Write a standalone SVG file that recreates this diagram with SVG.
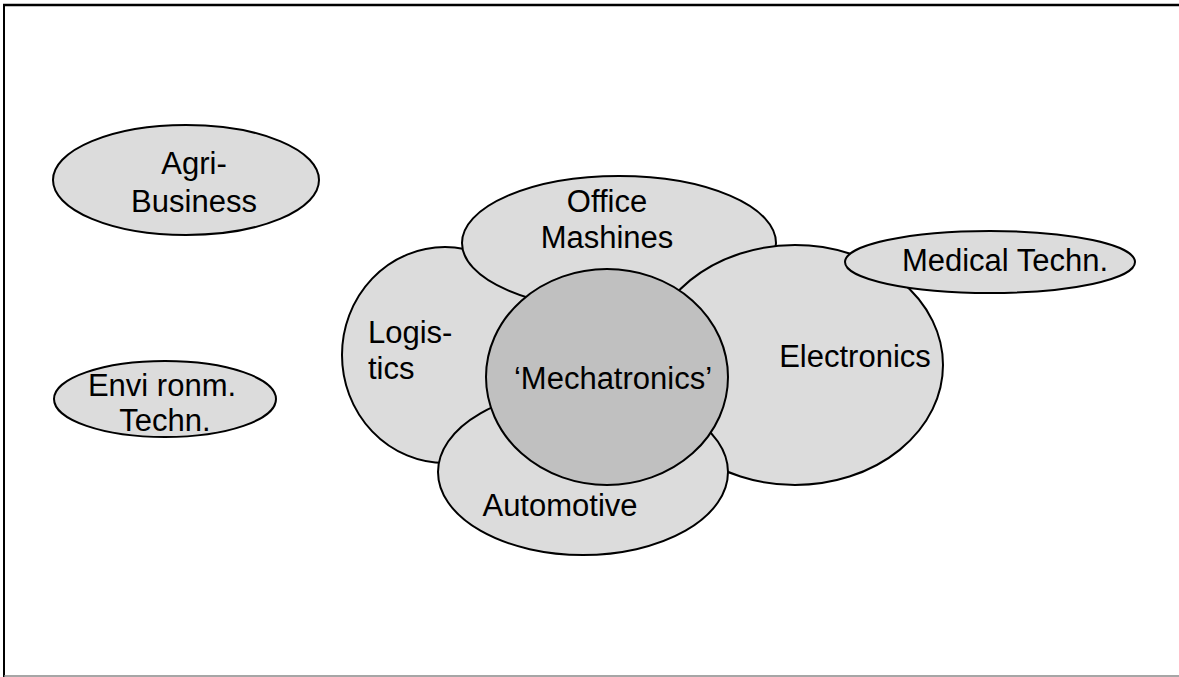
<svg xmlns="http://www.w3.org/2000/svg" width="1179" height="677" viewBox="0 0 1179 677">
<style>
.n{fill:#dcdcdc;stroke:#000;stroke-width:2}
.c{fill:#c0c0c0;stroke:#000;stroke-width:2}
text{font-family:"Liberation Sans",Arial,sans-serif;font-size:31px;fill:#000}
.m{text-anchor:middle}
</style>
<rect width="1179" height="677" fill="#fff"/>
<g id="frame">
<line x1="3" y1="5" x2="1179" y2="5" stroke="#000" stroke-width="2.5"/>
<line x1="4" y1="4" x2="4" y2="677" stroke="#000" stroke-width="2"/>
<line x1="4" y1="676" x2="1179" y2="676" stroke="#888" stroke-width="1.5"/>
</g>
<g id="connectors"></g>
<g id="agri">
<ellipse class="n" cx="186" cy="180" rx="133" ry="55"/>
<text class="m" x="194" y="174">Agri-</text>
<text class="m" x="194" y="212">Business</text>
</g>
<g id="envi">
<ellipse class="n" cx="165" cy="399" rx="111" ry="38"/>
<text class="m" x="162" y="396">Envi ronm.</text>
<text class="m" x="165" y="431">Techn.</text>
</g>
<g id="logistics">
<ellipse class="n" cx="445" cy="355" rx="103" ry="108"/>
<text x="368" y="343">Logis-</text>
<text x="368" y="379">tics</text>
</g>
<g id="office">
<ellipse class="n" cx="619" cy="243" rx="157" ry="67"/>
<text class="m" x="607" y="212">Office</text>
<text class="m" x="607" y="248">Mashines</text>
</g>
<g id="electronics">
<ellipse class="n" cx="795" cy="365" rx="148" ry="120"/>
<text class="m" x="855" y="367">Electronics</text>
</g>
<g id="medical">
<ellipse class="n" cx="990" cy="262" rx="145" ry="31"/>
<text class="m" x="1005" y="271">Medical Techn.</text>
</g>
<g id="automotive">
<ellipse class="n" cx="583" cy="472" rx="145" ry="83"/>
<text class="m" x="560" y="516">Automotive</text>
</g>
<g id="mechatronics">
<ellipse class="c" cx="607" cy="377" rx="121" ry="108"/>
<text class="m" x="613" y="389">‘Mechatronics’</text>
</g>
</svg>
